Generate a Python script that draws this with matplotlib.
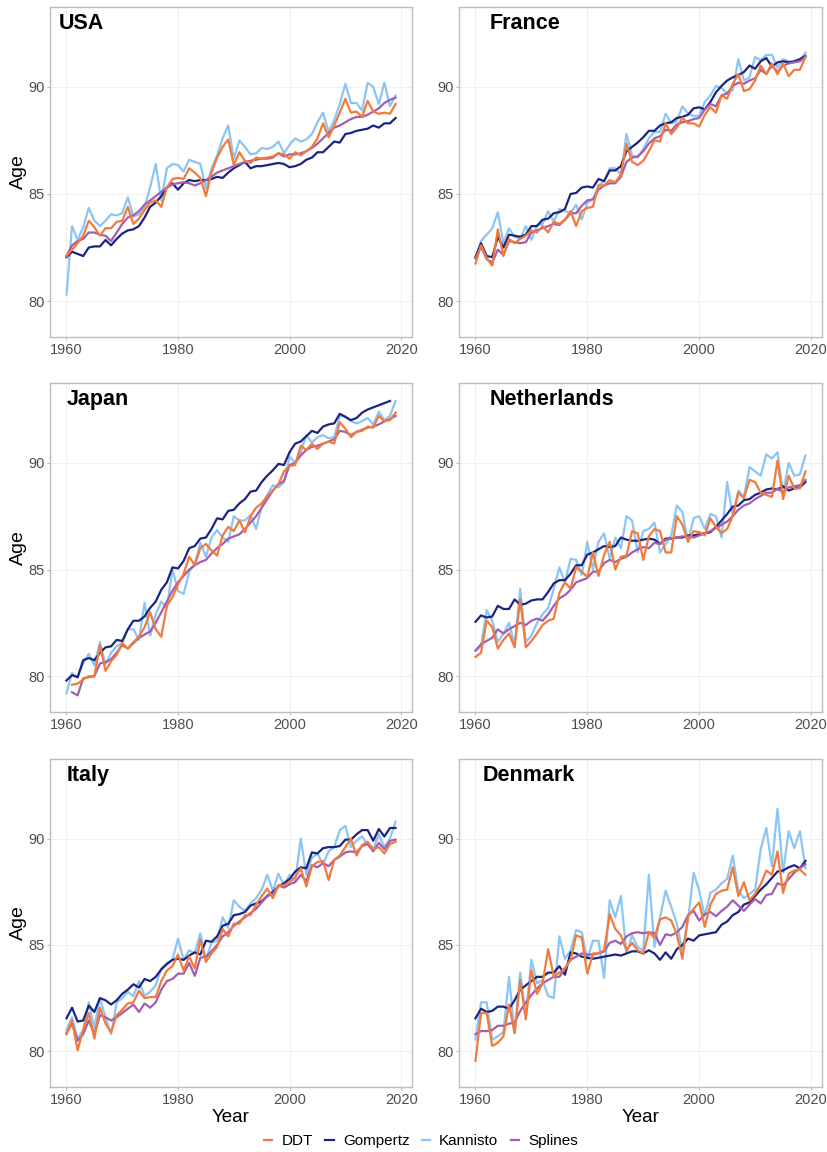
import numpy as np
import matplotlib
matplotlib.use("Agg")
import matplotlib.pyplot as plt
from matplotlib.lines import Line2D

plt.rcParams["font.family"] = ["Liberation Sans", "DejaVu Sans"]

nan = np.nan
years = list(range(1960, 2020))

# ---- USA ----
usa_ddt = [82.1, 82.4, 82.7, 83.05, 83.75, 83.45, 83.05, 83.4, 83.4, 83.7,
           83.75, 84.4, 83.6, 83.85, 84.25, 84.6, 84.7, 84.4, 85.3, 85.7,
           85.75, 85.7, 86.2, 86.0, 85.75, 84.9, 86.0, 86.7, 87.2, 87.55,
           86.35, 86.95, 86.55, 86.45, 86.7, 86.65, 86.7, 86.75, 86.9, 86.85,
           86.65, 86.95, 86.8, 87.0, 87.2, 87.6, 88.3, 87.65, 88.2, 88.8,
           89.45, 88.8, 88.85, 88.6, 89.35, 88.85, 88.75, 88.8, 88.75, 89.2]
usa_gompertz = [82.05, 82.3, 82.2, 82.1, 82.5, 82.55, 82.55, 82.85, 82.6, 82.9,
                83.15, 83.3, 83.35, 83.5, 83.9, 84.4, 84.6, 84.9, 85.3, 85.5,
                85.2, 85.5, 85.65, 85.6, 85.65, 85.65, 85.7, 85.8, 85.75, 86.0,
                86.2, 86.35, 86.5, 86.2, 86.3, 86.3, 86.35, 86.4, 86.45, 86.4,
                86.25, 86.3, 86.4, 86.6, 86.7, 86.95, 86.95, 87.2, 87.45, 87.4,
                87.8, 87.85, 87.95, 88.0, 88.05, 88.2, 88.1, 88.3, 88.3, 88.55]
usa_kannisto = [80.3, 83.5, 82.85, 83.45, 84.35, 83.75, 83.5, 83.75, 84.05, 84.0,
                84.1, 84.85, 83.95, 84.05, 84.4, 85.3, 86.4, 84.7, 86.2, 86.4,
                86.35, 86.05, 86.6, 86.5, 86.4, 85.25, 86.2, 86.8, 87.6, 88.2,
                86.65, 87.5, 87.2, 86.85, 86.9, 87.15, 87.1, 87.2, 87.45, 86.9,
                87.3, 87.6, 87.45, 87.55, 87.8, 88.35, 88.8, 87.9, 88.45, 89.2,
                90.15, 89.25, 89.25, 88.9, 90.2, 90.0, 89.2, 90.2, 89.1, 89.6]
usa_splines = [82.1, 82.6, 82.8, 82.9, 83.2, 83.2, 83.1, 83.05, 82.8, 83.2,
               83.6, 83.9, 84.0, 84.2, 84.5, 84.7, 84.9, 85.1, 85.3, 85.45,
               85.5, 85.55, 85.5, 85.4, 85.5, 85.65, 85.8, 86.0, 86.1, 86.2,
               86.3, 86.4, 86.5, 86.55, 86.6, 86.65, 86.65, 86.7, 86.9, 86.75,
               86.85, 86.85, 86.9, 87.0, 87.15, 87.35, 87.6, 87.85, 88.1, 88.2,
               88.35, 88.5, 88.6, 88.6, 88.7, 88.85, 89.0, 89.25, 89.4, 89.5]

# ---- France ----
fra_ddt = [81.75, 82.6, 82.0, 81.65, 83.35, 82.1, 82.9, 82.7, 82.9, 83.05,
           83.3, 83.2, 83.5, 83.2, 83.7, 83.6, 83.8, 84.2, 83.5, 84.2,
           84.35, 84.4, 85.4, 85.4, 85.65, 85.55, 85.9, 87.35, 86.5, 86.35,
           86.55, 87.0, 87.5, 87.45, 88.3, 87.8, 88.1, 88.55, 88.3, 88.3,
           88.15, 88.7, 89.05, 88.8, 89.6, 89.45, 90.15, 90.6, 89.8, 89.9,
           90.3, 91.0, 90.6, 91.1, 90.6, 91.1, 90.5, 90.8, 90.8, 91.4]
fra_gompertz = [82.05, 82.7, 82.1, 82.05, 83.0, 82.5, 83.1, 83.05, 83.0, 83.1,
                83.5, 83.5, 83.8, 83.85, 84.1, 84.15, 84.3, 85.0, 85.05, 85.3,
                85.35, 85.3, 85.7, 85.6, 86.1, 86.1, 86.3, 87.0, 87.2, 87.4,
                87.65, 87.95, 87.95, 88.2, 88.3, 88.35, 88.55, 88.6, 88.7, 89.0,
                89.05, 88.95, 89.3, 89.75, 90.05, 90.3, 90.45, 90.55, 90.7, 91.0,
                90.85, 91.2, 91.35, 90.95, 91.15, 91.2, 91.15, 91.2, 91.3, 91.45]
fra_kannisto = [82.0, 82.8, 83.1, 83.4, 84.15, 82.7, 83.4, 83.0, 82.9, 83.5,
                82.85, 83.55, 83.6, 84.2, 83.7, 84.3, 84.2, 84.1, 84.5, 83.8,
                84.6, 84.75, 85.4, 85.6, 86.2, 86.2, 85.9, 87.8, 86.8, 86.7,
                87.1, 87.6, 87.9, 87.9, 88.75, 88.3, 88.4, 89.1, 88.75, 88.65,
                88.65, 89.3, 89.6, 90.05, 89.95, 89.7, 89.85, 91.3, 90.3, 90.45,
                91.4, 91.25, 91.5, 91.5, 90.9, 91.3, 91.2, 91.15, 91.25, 91.6]
fra_splines = [82.0, 82.55, 81.95, 81.8, 82.4, 82.15, 82.8, 82.75, 82.7, 82.75,
               83.2, 83.3, 83.4, 83.5, 83.6, 83.55, 83.8, 84.1, 84.1, 84.45,
               84.7, 84.75, 85.2, 85.4, 85.5, 85.5, 85.8, 86.5, 86.7, 86.75,
               87.0, 87.35, 87.6, 87.7, 88.0, 87.95, 88.25, 88.35, 88.4, 88.5,
               88.55, 88.95, 89.2, 89.1, 89.6, 89.7, 90.05, 90.2, 90.15, 90.3,
               90.4, 90.8, 90.6, 91.0, 90.7, 91.0, 91.1, 91.15, 91.2, 91.4]

# ---- Japan ----
jpn_ddt = [nan, 79.6, 79.65, 79.85, 80.0, 80.0, 81.45, 80.25, 80.7, 81.0,
           81.55, 81.3, 81.6, 81.85, 82.3, 83.0, 82.2, 81.85, 83.3, 83.7,
           84.3, 84.8, 85.6, 85.2, 86.0, 86.2, 85.9, 85.65, 86.6, 87.0,
           86.8, 87.3, 86.75, 87.5, 87.9, 88.1, 88.45, 88.7, 89.0, 89.6,
           89.85, 89.9, 90.8, 90.6, 90.9, 90.65, 90.9, 91.0, 90.9, 91.9,
           91.6, 91.2, 91.45, 91.5, 91.7, 91.65, 92.2, 91.95, 92.0, 92.35]
jpn_gompertz = [79.8, 80.05, 79.95, 80.75, 80.85, 80.75, 81.1, 81.35, 81.4, 81.7,
                81.65, 82.2, 82.6, 82.6, 82.8, 83.2, 83.5, 84.05, 84.4, 85.1,
                85.05, 85.4, 86.0, 86.1, 86.45, 86.5, 86.9, 87.4, 87.35, 87.75,
                87.8, 88.1, 88.3, 88.65, 88.7, 89.1, 89.4, 89.65, 89.95, 89.9,
                90.5, 90.9, 91.0, 91.25, 91.5, 91.4, 91.7, 91.8, 91.85, 92.3,
                92.15, 92.0, 92.1, 92.35, 92.5, 92.6, 92.7, 92.8, 92.9, nan]
jpn_kannisto = [79.2, 80.15, 79.95, 80.6, 81.05, 80.5, 81.6, 80.55, 81.1, 81.4,
                81.55, 82.2, 82.2, 81.7, 83.45, 81.9, 82.9, 83.5, 83.2, 85.0,
                84.0, 83.85, 84.9, 85.25, 86.25, 85.6, 86.5, 86.85, 86.5, 86.3,
                87.5, 87.3, 87.3, 87.55, 86.9, 87.95, 88.5, 88.95, 88.85, 89.1,
                90.3, 90.0, 90.5, 91.3, 90.95, 91.2, 91.3, 91.15, 91.2, 92.2,
                92.2, 91.95, 91.85, 91.95, 92.1, 91.8, 92.4, 92.0, 92.2, 92.9]
jpn_splines = [nan, 79.25, 79.1, 79.9, 79.95, 80.0, 80.6, 80.65, 80.8, 81.1,
               81.45, 81.3, 81.55, 81.8, 81.95, 82.1, 82.5, 83.0, 83.5, 84.0,
               84.4, 84.7, 85.0, 85.2, 85.35, 85.45, 85.75, 86.0, 86.2, 86.45,
               86.55, 86.65, 86.9, 87.2, 87.5, 87.9, 88.3, 88.7, 89.0, 89.15,
               89.9, 90.0, 90.35, 90.6, 90.75, 90.8, 90.9, 91.0, 91.1, 91.5,
               91.45, 91.3, 91.45, 91.55, 91.65, 91.7, 91.8, 91.95, 92.05, 92.2]

# ---- Netherlands ----
nld_ddt = [80.9, 81.1, 82.6, 82.3, 81.3, 81.7, 82.0, 81.35, 83.6, 81.35,
           81.65, 82.0, 82.4, 82.6, 82.7, 83.9, 84.4, 84.1, 85.1, 84.9,
           84.65, 85.8, 84.7, 85.7, 86.3, 85.0, 85.6, 85.65, 86.8, 86.7,
           85.45, 86.55, 86.9, 86.8, 85.8, 85.8, 87.5, 87.1, 86.3, 86.8,
           86.75, 86.6, 87.4, 87.0, 86.7, 86.9, 87.5, 88.6, 88.35, 89.2,
           89.1, 88.6, 88.5, 88.4, 90.1, 88.3, 89.4, 88.8, 88.8, 89.6]
nld_gompertz = [82.55, 82.85, 82.75, 82.8, 83.3, 83.15, 83.15, 83.6, 83.35, 83.4,
                83.55, 83.6, 83.6, 83.95, 84.35, 84.5, 84.5, 84.8, 85.2, 85.2,
                85.7, 85.8, 85.95, 86.1, 86.05, 86.1, 86.5, 86.4, 86.35, 86.35,
                86.4, 86.45, 86.4, 86.2, 86.45, 86.45, 86.5, 86.5, 86.6, 86.6,
                86.65, 86.7, 86.75, 87.0, 87.3, 87.6, 87.95, 88.0, 88.25, 88.3,
                88.5, 88.6, 88.75, 88.8, 88.75, 88.9, 88.7, 88.8, 88.85, 89.1]
nld_kannisto = [81.2, 81.4, 83.1, 82.6, 81.6, 82.0, 82.5, 81.45, 84.1, 81.6,
                81.9, 82.5, 82.9, 83.2, 84.1, 85.1, 84.4, 85.5, 85.45, 84.75,
                86.3, 85.0, 86.3, 86.7, 85.5, 86.5, 86.0, 87.5, 87.3, 85.8,
                86.8, 86.9, 87.2, 85.8, 86.2, 86.6, 88.0, 87.7, 86.3, 87.4,
                87.5, 86.9, 87.6, 87.5, 86.5, 89.1, 87.5, 88.7, 88.4, 89.8,
                89.6, 89.4, 90.4, 90.2, 90.5, 88.6, 90.0, 89.4, 89.45, 90.35]
nld_splines = [81.2, 81.5, 81.65, 81.8, 82.2, 82.0, 82.2, 82.35, 82.5, 82.4,
               82.6, 82.7, 82.6, 82.9, 83.3, 83.65, 83.8, 84.05, 84.4, 84.5,
               84.6, 84.9, 84.9, 85.3, 85.45, 85.35, 85.5, 85.6, 85.8, 85.95,
               86.05, 86.0, 86.25, 86.2, 86.4, 86.45, 86.5, 86.55, 86.55, 86.5,
               86.6, 86.7, 86.8, 86.95, 87.1, 87.25, 87.5, 87.8, 88.0, 88.1,
               88.3, 88.45, 88.6, 88.6, 88.8, 88.6, 88.85, 88.9, 88.95, 89.2]

# ---- Italy ----
ita_ddt = [80.8, 81.45, 80.05, 81.0, 81.8, 80.6, 82.05, 81.3, 80.9, 81.7,
           81.95, 82.25, 82.3, 82.85, 82.5, 82.55, 82.55, 83.3, 83.8, 84.0,
           84.55, 83.8, 84.45, 83.9, 85.25, 84.2, 84.6, 84.9, 85.75, 85.4,
           86.0, 86.0, 86.4, 86.4, 86.9, 87.3, 87.65, 87.2, 87.8, 87.8,
           87.95, 88.2, 88.6, 87.75, 88.7, 88.9, 88.95, 88.05, 89.0, 89.2,
           89.6, 90.0, 89.2, 89.7, 89.85, 89.5, 89.6, 89.3, 89.75, 89.85]
ita_gompertz = [81.55, 82.05, 81.4, 81.45, 82.15, 81.85, 82.5, 82.4, 82.2, 82.4,
                82.7, 82.9, 83.15, 83.0, 83.4, 83.3, 83.5, 83.85, 84.1, 84.3,
                84.35, 84.3, 84.5, 84.65, 84.55, 85.2, 85.15, 85.4, 85.9, 86.0,
                86.4, 86.45, 86.55, 86.85, 86.95, 87.05, 87.3, 87.5, 87.75, 87.9,
                88.1, 88.45, 88.65, 88.6, 89.35, 89.3, 89.55, 89.6, 89.6, 89.65,
                89.95, 89.95, 90.2, 90.4, 90.4, 89.9, 90.45, 90.1, 90.5, 90.5]
ita_kannisto = [81.0, 81.6, 80.6, 81.0, 82.3, 81.1, 82.5, 81.6, 80.8, 82.3,
                82.5, 82.8, 82.6, 83.3, 82.6, 82.8, 83.1, 83.9, 84.15, 84.3,
                85.3, 84.3, 84.75, 84.6, 85.55, 84.3, 85.1, 85.2, 86.3, 85.8,
                87.1, 86.8, 86.6, 86.95, 87.2, 87.6, 88.3, 87.55, 88.35, 87.8,
                88.3, 88.0, 90.0, 88.3, 89.1, 89.3, 88.8, 89.4, 89.6, 90.4,
                90.6, 89.6, 89.9, 90.1, 89.7, 89.5, 90.2, 89.6, 90.0, 90.8]
ita_splines = [80.85, 81.3, 80.5, 80.8, 81.45, 80.8, 81.7, 81.6, 81.45, 81.6,
               81.8, 82.0, 82.2, 81.85, 82.25, 82.05, 82.3, 82.9, 83.3, 83.4,
               83.65, 83.65, 84.15, 83.55, 84.4, 84.45, 84.7, 85.0, 85.4, 85.6,
               85.9, 86.1, 86.3, 86.5, 86.7, 87.0, 87.3, 87.4, 87.8, 87.7,
               87.85, 87.95, 88.3, 88.0, 88.75, 88.65, 88.85, 88.7, 89.0, 89.15,
               89.35, 89.4, 89.35, 89.65, 89.75, 89.4, 89.8, 89.5, 89.9, 89.95]

# ---- Denmark ----
dnk_ddt = [79.55, 81.8, 81.8, 80.25, 80.4, 80.7, 82.2, 80.85, 83.35, 81.5,
           83.8, 82.7, 83.2, 84.8, 83.5, 83.7, 83.9, 84.3, 85.45, 85.35,
           83.65, 84.6, 84.6, 84.75, 86.45, 85.75, 85.45, 84.75, 85.1, 84.75,
           84.6, 85.6, 85.35, 86.2, 86.3, 86.15, 85.5, 84.35, 86.35, 86.7,
           87.0, 85.85, 86.9, 87.4, 87.55, 87.6, 88.65, 87.3, 87.95, 87.1,
           87.4, 87.85, 88.5, 88.3, 89.4, 87.45, 88.35, 88.5, 88.55, 88.3]
dnk_gompertz = [81.55, 82.0, 81.85, 81.9, 82.1, 82.1, 82.0, 82.4, 82.9, 83.1,
                83.3, 83.5, 83.5, 83.7, 83.7, 84.0, 83.6, 84.65, 84.6, 84.45,
                84.4, 84.35, 84.4, 84.45, 84.5, 84.55, 84.5, 84.6, 84.7, 84.7,
                84.6, 84.75, 84.6, 84.3, 84.65, 84.35, 84.8, 85.0, 85.3, 85.2,
                85.45, 85.5, 85.55, 85.6, 85.95, 86.1, 86.4, 86.55, 86.9, 87.0,
                87.3, 87.6, 87.85, 88.15, 88.45, 88.5, 88.65, 88.75, 88.6, 88.95]
dnk_kannisto = [80.55, 82.3, 82.3, 80.55, 80.7, 80.9, 83.5, 80.85, 83.7, 81.65,
                84.3, 83.2, 83.35, 82.6, 82.5, 85.4, 84.35, 84.75, 85.7, 85.6,
                84.3, 85.2, 85.2, 83.45, 87.1, 86.3, 87.3, 84.6, 85.45, 84.9,
                84.75, 88.3, 84.9, 86.3, 87.55, 86.8, 86.0, 84.75, 86.15, 88.4,
                87.55, 86.35, 87.45, 87.6, 87.9, 88.1, 89.2, 87.55, 87.2, 87.4,
                87.6, 89.5, 90.5, 88.7, 91.4, 88.4, 90.35, 89.55, 90.35, 88.6]
dnk_splines = [80.8, 80.95, 80.95, 81.0, 81.2, 81.2, 81.3, 81.35, 81.9, 82.3,
               82.65, 82.95, 83.2, 83.35, 83.5, 83.5, 83.9, 84.3, 84.45, 84.6,
               84.55, 84.55, 84.6, 84.7, 85.1, 85.2, 85.05, 85.4, 85.55, 85.6,
               85.55, 85.6, 85.55, 85.0, 85.5, 85.45, 85.6, 85.85, 86.4, 86.6,
               86.15, 86.45, 86.55, 86.35, 86.6, 86.8, 87.1, 86.85, 86.6, 86.9,
               87.15, 86.95, 87.35, 87.4, 87.9, 87.8, 88.1, 88.4, 88.6, 88.8]

methods = ["DDT", "Gompertz", "Kannisto", "Splines"]
colors = {"DDT": "#F27A3B", "Gompertz": "#1B2580",
          "Kannisto": "#8CC5F3", "Splines": "#A45DB1"}
draw_order = ["Kannisto", "Gompertz", "Splines", "DDT"]

# (name, series, title x in axes fraction, row, col)
col_x = [(0.0604, 0.4372), (0.5543, 0.4384)]
row_y = [(0.7075, 0.2865), (0.3819, 0.2856), (0.0564, 0.2847)]
panels = [
    ("USA", [usa_ddt, usa_gompertz, usa_kannisto, usa_splines], 0.025, 0, 0),
    ("France", [fra_ddt, fra_gompertz, fra_kannisto, fra_splines], 0.085, 0, 1),
    ("Japan", [jpn_ddt, jpn_gompertz, jpn_kannisto, jpn_splines], 0.047, 1, 0),
    ("Netherlands", [nld_ddt, nld_gompertz, nld_kannisto, nld_splines], 0.085, 1, 1),
    ("Italy", [ita_ddt, ita_gompertz, ita_kannisto, ita_splines], 0.047, 2, 0),
    ("Denmark", [dnk_ddt, dnk_gompertz, dnk_kannisto, dnk_splines], 0.066, 2, 1),
]

for _, series, *_ in panels:
    assert all(len(s) == len(years) for s in series)

fig = plt.figure(figsize=(8.28, 11.52), dpi=100)
fig.patch.set_facecolor("white")

for name, series, title_x, row, col in panels:
    x0, w = col_x[col]
    y0, h = row_y[row]
    ax = fig.add_axes([x0, y0, w, h])
    by_method = dict(zip(methods, series))
    for m in draw_order:
        ax.plot(years, by_method[m], color=colors[m], lw=1.6,
                solid_joinstyle="round", zorder=3)

    ax.set_xlim(1957.05, 2021.95)
    ax.set_ylim(78.32, 93.74)
    ax.set_xticks([1960, 1980, 2000, 2020])
    ax.set_yticks([80, 85, 90])
    ax.grid(True, color="#F0F0F0", lw=0.7, zorder=0)
    for sp in ax.spines.values():
        sp.set_color("#BDBDBD")
        sp.set_linewidth(1.0)
    ax.tick_params(labelsize=10.5, labelcolor="#4D4D4D", color="#BDBDBD",
                   length=2.5, width=0.8, pad=1.5)

    ax.text(title_x, 1 - 6.0 / 330, name, transform=ax.transAxes,
            ha="left", va="top", fontsize=15.5, fontweight="bold")

    if col == 0:
        fig.text(18 / 828, y0 + h / 2, "Age", rotation=90,
                 ha="center", va="center", fontsize=14)
    if row == 2:
        fig.text(x0 + w / 2, 1 - 1117 / 1152, "Year",
                 ha="center", va="center", fontsize=13.5)

handles = [Line2D([], [], color=colors[m], lw=1.6) for m in methods]
fig.legend(handles, methods, loc="center",
           bbox_to_anchor=(421 / 828, 1 - 1141 / 1152), ncol=4,
           frameon=False, fontsize=11, handlelength=0.55,
           handletextpad=0.6, columnspacing=0.8)

fig.savefig("out.png", dpi=100, facecolor="white")
